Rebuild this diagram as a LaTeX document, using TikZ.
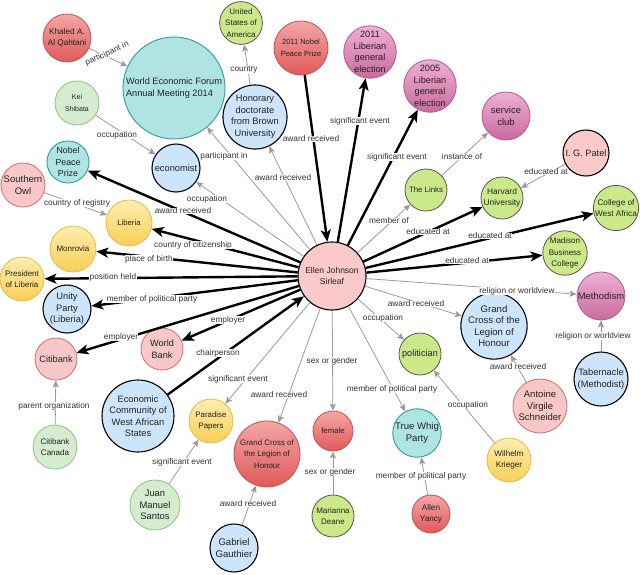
\documentclass[tikz,border=0pt]{standalone}
\usepackage{fontspec}
\setmainfont{Liberation Sans}
\usetikzlibrary{arrows.meta}
\definecolor{redT}{HTML}{F4A6A6}
\definecolor{redBt}{HTML}{E05A5A}
\definecolor{redB}{HTML}{C94F4F}
\definecolor{pinkF}{HTML}{F8C8C8}
\definecolor{pinkB}{HTML}{D56B6B}
\definecolor{ellenF}{HTML}{FBC9C9}
\definecolor{greenLF}{HTML}{D6ECD0}
\definecolor{greenLB}{HTML}{8DC67B}
\definecolor{limeF}{HTML}{CCE98A}
\definecolor{limeB}{HTML}{555555}
\definecolor{tealF}{HTML}{B0E3E3}
\definecolor{tealB}{HTML}{2F9D9E}
\definecolor{blueF}{HTML}{CDE5FA}
\definecolor{yelT}{HTML}{FFEDB0}
\definecolor{yelBt}{HTML}{F8CF55}
\definecolor{yelB}{HTML}{E2BC4A}
\definecolor{magT}{HTML}{EEB0D3}
\definecolor{magBt}{HTML}{CB6A9E}
\definecolor{magB}{HTML}{B15A8A}
\definecolor{lbltxt}{HTML}{333333}
\definecolor{edgegray}{HTML}{9A9A9A}
\definecolor{txt}{HTML}{222222}
\tikzset{
  nd/.style={circle,inner sep=0pt,align=center,text=txt},
  sz/.style={minimum size=2*#1},
  fs/.style={font=\fontsize{#1}{11.5}\selectfont},
  cRed/.style={nd,top color=redT,bottom color=redBt,draw=redB,line width=0.8pt},
  cPink/.style={nd,fill=pinkF,draw=pinkB,line width=0.8pt},
  cPinkK/.style={nd,fill=ellenF,draw=black,line width=1.1pt},
  cEllen/.style={nd,fill=ellenF,draw=black,line width=1.1pt},
  cGreenL/.style={nd,fill=greenLF,draw=greenLB,line width=0.8pt},
  cLime/.style={nd,fill=limeF,draw=limeB,line width=0.8pt},
  cTeal/.style={nd,fill=tealF,draw=tealB,line width=0.9pt},
  cBlue/.style={nd,fill=blueF,draw=black,line width=1.1pt},
  cYel/.style={nd,top color=yelT,bottom color=yelBt,draw=yelB,line width=0.8pt},
  cMag/.style={nd,top color=magT,bottom color=magBt,draw=magB,line width=0.8pt},
  lbl/.style={fill=white,inner sep=0.4pt,text=lbltxt,font=\fontsize{8.3}{10}\selectfont},
  thk/.style={line width=2.4pt,draw=black,-{Stealth[length=12pt,width=10pt,inset=3pt]}},
  gry/.style={line width=0.8pt,draw=edgegray,-{Stealth[length=7pt,width=6pt,inset=1.5pt]}}
}
\begin{document}
\begin{tikzpicture}[x=1pt,y=-1pt]
\fill[white] (0,0) rectangle (640,574);
\useasboundingbox (0,0) rectangle (640,574);
% nodes
\node[cRed,sz=24,fs=8.2] (khaled) at (67,38) {Khaled A.\\Al Qahtani};
\node[cTeal,sz=51,fs=9.2,align=left] (wef) at (174,88) {World Economic Forum\\Annual Meeting 2014};
\node[cLime,sz=21,fs=8] (usa) at (241,23) {United\\States of\\America};
\node[cRed,sz=27,fs=7.5] (nobel11) at (301,48) {2011 Nobel\\Peace Prize};
\node[cBlue,sz=30,fs=9.3] (hon) at (255,117) {Honorary\\doctorate\\from Brown\\University};
\node[cGreenL,sz=22,fs=7] (kei) at (77,103) {Kei\\Shibata};
\node[cBlue,sz=24,fs=9.3] (econ) at (176,168) {economist};
\node[cTeal,sz=21,fs=8.8] (nobel) at (68,162) {Nobel\\Peace\\Prize};
\node[cPink,sz=22,fs=9.5] (owl) at (23,185) {Southern\\Owl};
\node[cYel,sz=23,fs=7.7] (liberia) at (129,223) {Liberia};
\node[cYel,sz=23,fs=8] (monrovia) at (73,249) {Monrovia};
\node[cYel,sz=22,fs=8] (pres) at (22,279) {President\\of Liberia};
\node[cBlue,sz=24,fs=9.3] (unity) at (67,309) {Unity\\Party\\(Liberia)};
\node[cPink,sz=21,fs=9.2] (citi) at (56,359) {Citibank};
\node[cPink,sz=21,fs=9.2] (wb) at (162,349) {World\\Bank};
\node[cBlue,sz=36,fs=9.3] (ecowas) at (138,416) {Economic\\Community of\\West African\\States};
\node[cGreenL,sz=22,fs=8] (citica) at (55,447) {Citibank\\Canada};
\node[cYel,sz=22,fs=7.9] (paradise) at (211,421) {Paradise\\Papers};
\node[cRed,sz=33,fs=7.9] (gcred) at (267,454) {Grand Cross of\\the Legion of\\Honour};
\node[cGreenL,sz=25,fs=9.4] (juan) at (155,505) {Juan\\Manuel\\Santos};
\node[cBlue,sz=24,fs=9.6] (gab) at (234,548) {Gabriel\\Gauthier};
\node[cRed,sz=20,fs=7.8] (female) at (333,431) {female};
\node[cLime,sz=21,fs=8] (mari) at (333,516) {Marianna\\Deane};
\node[cTeal,sz=24,fs=9.6] (whig) at (417,433) {True Whig\\Party};
\node[cRed,sz=19,fs=8.2] (allen) at (431,514) {Allen\\Yancy};
\node[cYel,sz=22,fs=8.2] (wil) at (509,460) {Wilhelm\\Krieger};
\node[cPink,sz=27,fs=9.5] (antoine) at (540,406) {Antoine\\Virgile\\Schneider};
\node[cBlue,sz=27,fs=9.3] (tab) at (601,379) {Tabernacle\\(Methodist)};
\node[cMag,sz=24,fs=9.5] (meth) at (601,296) {Methodism};
\node[cBlue,sz=28,fs=9.6] (gcblue) at (494,326) {Grand\\Cross of the\\Legion of\\Honour};
\node[cLime,sz=21,fs=9.2] (pol) at (420,354) {politician};
\node[cLime,sz=21,fs=8] (madison) at (565,253) {Madison\\Business\\College};
\node[cLime,sz=22,fs=8.2] (cwa) at (616,208) {College of\\West Africa};
\node[cLime,sz=21,fs=8.4] (harvard) at (502,198) {Harvard\\University};
\node[cPinkK,sz=23,fs=9.2] (patel) at (586,153) {I. G. Patel};
\node[cLime,sz=21,fs=7.8] (links) at (426,190) {The Links};
\node[cMag,sz=24,fs=9.5] (club) at (506,116) {service\\club};
\node[cMag,sz=26,fs=9.2] (el2005) at (430,86) {2005\\Liberian\\general\\election};
\node[cMag,sz=26,fs=9.2] (el2011) at (370,52) {2011\\Liberian\\general\\election};
\node[cEllen,sz=34,fs=8.5] (ellen) at (332,276) {Ellen Johnson\\Sirleaf};
% gray edges
\draw[gry] (khaled) -- (wef);
\draw[gry] (hon) -- (usa);
\draw[gry] (kei) -- (econ);
\draw[gry] (ellen) -- (econ);
\draw[gry] (ellen) -- (wef);
\draw[gry] (ellen) -- (hon);
\draw[gry] (owl) -- (liberia);
\draw[gry] (citica) -- (citi);
\draw[gry] (ellen) -- (paradise);
\draw[gry] (juan) -- (paradise);
\draw[gry] (ellen) -- (gcred);
\draw[gry] (gab) -- (gcred);
\draw[gry] (ellen) -- (female);
\draw[gry] (mari) -- (female);
\draw[gry] (ellen) -- (whig);
\draw[gry] (allen) -- (whig);
\draw[gry] (ellen) -- (pol);
\draw[gry] (wil) -- (pol);
\draw[gry] (ellen) -- (gcblue);
\draw[gry] (antoine) -- (gcblue);
\draw[gry] (ellen) -- (meth);
\draw[gry] (tab) -- (meth);
\draw[gry] (ellen) -- (links);
\draw[gry] (links) -- (club);
\draw[gry] (patel) -- (harvard);
% thick edges
\draw[thk] (ellen) -- (nobel);
\draw[thk] (ellen) -- (liberia);
\draw[thk] (ellen) -- (monrovia);
\draw[thk] (ellen) -- (pres);
\draw[thk] (ellen) -- (unity);
\draw[thk] (ellen) -- (citi);
\draw[thk] (ellen) -- (wb);
\draw[thk] (ecowas) -- (ellen);
\draw[thk] (nobel11) -- (ellen);
\draw[thk] (ellen) -- (el2011);
\draw[thk] (ellen) -- (el2005);
\draw[thk] (ellen) -- (harvard);
\draw[thk] (ellen) -- (cwa);
\draw[thk] (ellen) -- (madison);
% labels
\node[lbl,rotate=25] (l1) at (107,54) {participant in};
\node[lbl] (l2) at (244,70) {country};
\node[lbl] (l3) at (117,135) {occupation};
\node[lbl] (l4) at (224,156) {participant in};
\node[lbl] (l5) at (283,178) {award received};
\node[lbl] (l6) at (311,139) {award received};
\node[lbl] (l7) at (207,199) {occupation};
\node[lbl] (l8) at (183,211) {award received};
\node[lbl] (l9) at (77,203) {country of registry};
\node[lbl] (l10) at (193,245) {country of citizenship};
\node[lbl] (l11) at (149,259) {place of birth};
\node[lbl] (l12) at (113,277) {position held};
\node[lbl] (l13) at (152,299) {member of political party};
\node[lbl] (l14) at (121,337) {employer};
\node[lbl] (l15) at (228,320) {employer};
\node[lbl] (l16) at (218,353) {chairperson};
\node[lbl] (l17) at (238,379) {significant event};
\node[lbl] (l18) at (54,406) {parent organization};
\node[lbl] (l19) at (182,462) {significant event};
\node[lbl] (l20) at (279,395) {award received};
\node[lbl] (l21) at (248,504) {award received};
\node[lbl] (l22) at (332,361) {sex or gender};
\node[lbl] (l23) at (330,472) {sex or gender};
\node[lbl] (l24) at (392,389) {member of political party};
\node[lbl] (l25) at (421,476) {member of political party};
\node[lbl] (l26) at (468,405) {occupation};
\node[lbl] (l27) at (383,318) {occupation};
\node[lbl] (l28) at (416,304) {award received};
\node[lbl] (l29) at (518,367) {award received};
\node[lbl] (l30) at (517,291) {religion or worldview};
\node[lbl] (l31) at (593,336) {religion or worldview};
\node[lbl] (l32) at (467,261) {educated at};
\node[lbl] (l33) at (490,236) {educated at};
\node[lbl] (l34) at (428,232) {educated at};
\node[lbl] (l35) at (389,221) {member of};
\node[lbl] (l36) at (462,157) {instance of};
\node[lbl] (l37) at (546,172) {educated at};
\node[lbl] (l38) at (360,121) {significant event};
\node[lbl] (l39) at (397,157) {significant event};
\end{tikzpicture}
\end{document}
